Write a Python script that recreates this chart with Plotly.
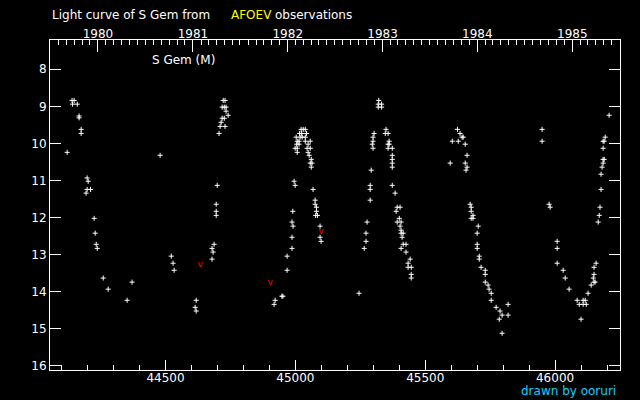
import datetime
import plotly.graph_objects as go

# Julian Date - 2400000 of each visual estimate, and the magnitude
jd = [
    44121, 44140, 44148, 44142, 44160, 44167, 44167, 44175, 44175, 44198, 44202, 44198, 44211, 44194,
    44225, 44229, 44233, 44237, 44260, 44279, 44352, 44371, 44479, 44522, 44529, 44533, 44618, 44614,
    44618, 44679, 44683, 44679, 44687, 44695, 44695, 44695, 44699, 44706, 44710, 44729, 44714, 44718,
    44726, 44741, 44733, 44718, 44726, 44733, 44722, 44729,
    44918, 44922, 44948, 44952, 44968, 44968, 44987, 44987, 44991, 44987, 44990, 44995, 44999,
    45022, 45030, 45038, 45016, 45024, 45043, 45003, 45018, 45026, 45038, 45007, 45014, 45038, 45057,
    45005, 45014, 45049, 44999, 45007, 45045, 45057, 45007, 45049, 45053, 45061, 45057, 45064, 45061,
    45068, 45076, 45076, 45081, 45081, 45078, 45085, 45095, 45095, 45099,
    45245, 45265, 45272, 45272, 45276, 45288, 45288, 45288, 45292, 45303, 45299, 45299, 45296, 45299,
    45321, 45319, 45332, 45319, 45332, 45349, 45346, 45357, 45361, 45357, 45361, 45357, 45373, 45373,
    45373, 45373, 45373, 45373, 45384, 45392, 45403, 45388, 45400, 45392, 45407, 45403, 45407, 45407,
    45415, 45411, 45415, 45426, 45407, 45426, 45442, 45434, 45434, 45446, 45446, 45446,
    45596, 45604, 45627, 45624, 45634, 45642, 45646, 45654, 45661, 45654, 45661, 45657, 45673, 45677,
    45677, 45684, 45677, 45684, 45704, 45700, 45700, 45700, 45708, 45708, 45715, 45731, 45731, 45731,
    45742, 45746, 45754, 45754, 45773, 45788, 45796, 45785, 45796, 45819, 45819,
    45950, 45950, 45977, 45981, 46008, 46008, 46008, 46031, 46039, 46054, 46085, 46093, 46100, 46108,
    46116, 46108, 46120, 46127, 46139, 46150, 46154, 46147, 46150, 46150, 46158, 46166, 46170, 46173,
    46177, 46177, 46181, 46185, 46185, 46189, 46185, 46185, 46189, 46193, 46208,
]
mag = [
    10.24, 8.84, 8.84, 8.94, 8.94, 9.26, 9.31, 9.62, 9.73, 10.93, 11.02, 11.24, 11.24, 11.34,
    12.02, 12.42, 12.72, 12.83, 13.63, 13.93, 14.23, 13.74, 10.32, 13.04, 13.23, 13.42, 14.23, 14.42,
    14.52, 13.12, 12.93, 12.83, 12.72, 11.94, 11.83, 11.64, 11.13, 9.73, 9.54, 9.54, 9.43, 9.32,
    9.32, 9.24, 9.13, 9.02, 9.02, 9.02, 8.84, 8.84,
    14.34, 14.23, 14.12, 14.12, 13.42, 13.04, 12.83, 12.53, 12.23, 12.12, 11.83, 11.02, 11.13,
    9.62, 9.62, 9.62, 9.73, 9.73, 9.73, 9.83, 9.83, 9.83, 9.83, 9.94, 9.94, 9.94, 9.94,
    10.02, 10.02, 10.02, 10.13, 10.13, 10.13, 10.13, 10.24, 10.24, 10.32, 10.43, 10.53, 10.53, 10.64,
    11.24, 11.53, 11.64, 11.72, 11.83, 11.94, 11.94, 12.23, 12.53, 12.64,
    14.04, 12.83, 12.64, 12.42, 12.12, 11.53, 11.24, 11.13, 10.72, 9.73, 9.83, 9.94, 10.02, 10.13,
    8.84, 8.94, 8.94, 9.02, 9.02, 9.62, 9.73, 9.73, 9.94, 10.02, 10.02, 10.13, 10.13, 10.32,
    10.43, 10.53, 10.64, 11.13, 11.34, 11.72, 11.72, 11.83, 12.02, 12.12, 12.12, 12.23, 12.34, 12.42,
    12.42, 12.53, 12.72, 12.72, 12.83, 12.93, 13.12, 13.23, 13.34, 13.34, 13.53, 13.63,
    10.53, 9.94, 9.94, 9.62, 9.73, 9.83, 9.83, 10.02, 10.32, 10.53, 10.64, 10.72, 11.64, 11.72,
    11.83, 11.94, 12.02, 12.02, 12.23, 12.42, 12.72, 12.83, 13.04, 13.12, 13.34, 13.42, 13.53, 13.74,
    13.82, 13.93, 14.04, 14.23, 14.42, 14.52, 14.63, 14.74, 15.12, 14.34, 14.63,
    9.62, 9.94, 11.64, 11.72, 12.64, 12.83, 13.23, 13.42, 13.63, 13.93, 14.23, 14.34, 14.74, 14.23,
    14.23, 14.34, 14.34, 14.04, 13.82, 13.74, 13.74, 13.63, 13.53, 13.34, 13.23, 12.12, 11.94, 11.72,
    11.24, 10.83, 10.64, 10.53, 10.43, 10.43, 10.13, 9.94, 9.94, 9.83, 9.24,
]

# "fainter than" estimates (red v)
limit_jd = [44633, 44903, 45099]
limit_mag = [13.28, 13.77, 12.37]

years = [1980, 1981, 1982, 1983, 1984, 1985]
y_ticks = [8, 9, 10, 11, 12, 13, 14, 15, 16]

FONT = "DejaVu Sans"
WHITE = "#ffffff"

def jd_of(y, m):
    return (datetime.date(y, m, 1) - datetime.date(1858, 11, 17)).days + 0.5

year_pos = [jd_of(y, 1) for y in years]
month_pos = [jd_of(y, m) for y in range(1979, 1987) for m in range(1, 13)]
XR = [44055, 46250]

fig = go.Figure()
fig.add_trace(go.Scatter(
    x=jd, y=mag, mode="markers",
    marker=dict(symbol="cross-thin", size=3.6, line=dict(color=WHITE, width=1), color=WHITE),
    showlegend=False, hoverinfo="skip",
))
fig.add_trace(go.Scatter(
    x=limit_jd, y=limit_mag, mode="text", text=["v"] * len(limit_jd),
    textfont=dict(color="#ff0000", size=9, family=FONT), textposition="middle center",
    showlegend=False, hoverinfo="skip",
))
fig.add_trace(go.Scatter(x=[XR[0]], y=[10], xaxis="x2", mode="markers",
                         marker=dict(opacity=0), showlegend=False, hoverinfo="skip"))

# the page body adds an 8px offset; the figure is sized to fit the window
fig.update_layout(
    width=632, height=392, autosize=False,
    paper_bgcolor="#000000", plot_bgcolor="#000000",
    margin=dict(l=42, r=20, t=32, b=30, autoexpand=False),
    font=dict(family=FONT, size=12, color=WHITE),
    xaxis=dict(
        range=XR, showgrid=False, zeroline=False, automargin=False,
        showline=True, linecolor=WHITE, linewidth=1, mirror=False,
        ticks="inside", ticklen=10, tickwidth=1, tickcolor=WHITE,
        tick0=44500, dtick=500, tickformat="d", ticklabelstandoff=-3,
        minor=dict(ticks="inside", ticklen=5, tickwidth=1, tickcolor=WHITE, dtick=100, showgrid=False),
        tickfont=dict(family=FONT, size=12, color=WHITE),
    ),
    xaxis2=dict(
        range=XR, overlaying="x", side="top", showgrid=False, zeroline=False, automargin=False,
        showline=True, linecolor=WHITE, linewidth=1,
        ticks="inside", ticklen=12, tickwidth=1, tickcolor=WHITE, ticklabelstandoff=-4,
        tickmode="array", tickvals=year_pos, ticktext=[str(y) for y in years],
        minor=dict(ticks="inside", ticklen=5, tickwidth=1, tickcolor=WHITE,
                   tickmode="array", tickvals=month_pos, showgrid=False),
        tickfont=dict(family=FONT, size=12, color=WHITE),
    ),
    yaxis=dict(
        range=[16.11, 7.21], showgrid=False, zeroline=False, automargin=False,
        showline=True, linecolor=WHITE, linewidth=1, mirror="ticks",
        ticks="inside", ticklen=11, tickwidth=1, tickcolor=WHITE,
        tickmode="array", tickvals=y_ticks, ticktext=[str(v) for v in y_ticks],
        tickfont=dict(family=FONT, size=12, color=WHITE),
    ),
    annotations=[
        dict(text="Light curve of S Gem from", xref="paper", yref="paper",
             x=0.0, y=1.0758, xanchor="left", yanchor="middle", showarrow=False,
             font=dict(family=FONT, size=12, color=WHITE)),
        dict(text="AFOEV", xref="paper", yref="paper",
             x=(229 - 50) / 570, y=1.0758, xanchor="left", yanchor="middle", showarrow=False,
             font=dict(family=FONT, size=12, color="#ffff00")),
        dict(text="observations", xref="paper", yref="paper",
             x=(273 - 50) / 570, y=1.0758, xanchor="left", yanchor="middle", showarrow=False,
             font=dict(family=FONT, size=12, color=WHITE)),
        dict(text="S Gem (M)", xref="paper", yref="paper",
             x=(150 - 50) / 570, y=(370 - 60) / 330, xanchor="left", yanchor="middle", showarrow=False,
             font=dict(family=FONT, size=12, color=WHITE)),
        dict(text="drawn by ooruri", xref="paper", yref="paper",
             x=(618 - 50) / 570, y=(370 - 391) / 330, xanchor="right", yanchor="middle", showarrow=False,
             font=dict(family=FONT, size=12, color="#00d4ff")),
    ],
)

fig.write_html("out.html", post_script="document.body.style.background='#000000';")
